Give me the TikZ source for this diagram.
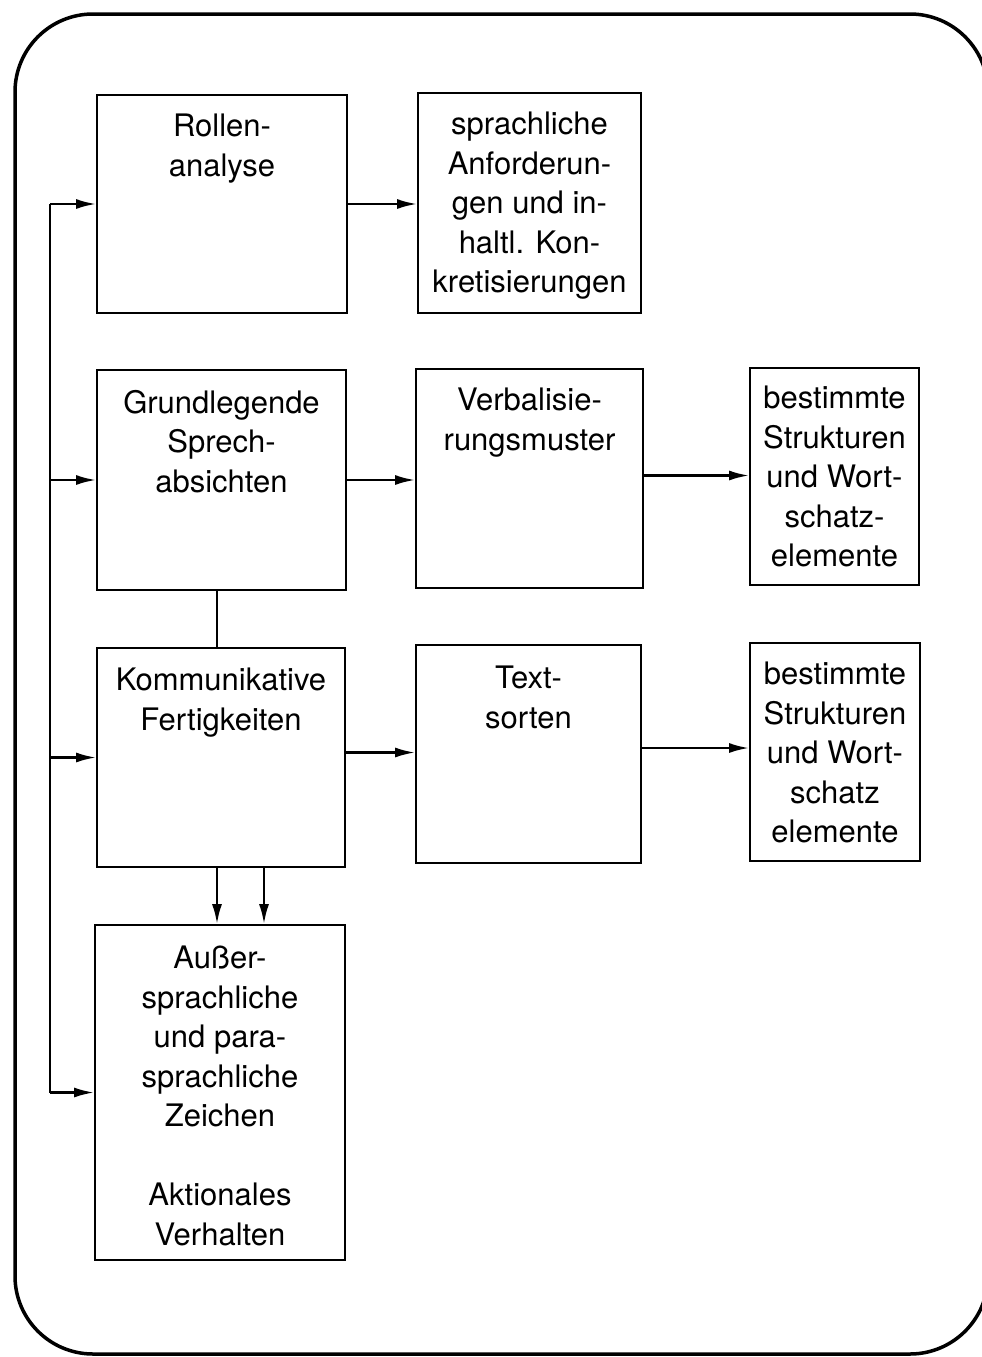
\documentclass[tikz,border=0pt]{standalone}
\usepackage{fontspec}
\setmainfont{TeX Gyre Heros}
\usetikzlibrary{arrows.meta}
\begin{document}
\begin{tikzpicture}[x=1pt,y=-1pt,
  box/.style={draw, line width=1.8pt, inner sep=0pt},
  lbl/.style={align=center, inner sep=0pt, anchor=north, font=\fontsize{31}{39.5}\selectfont},
  conn/.style={line width=2.4pt},
  arr/.style={line width=2.4pt, -{Latex[length=20pt,width=10pt]}},
  frame/.style={line width=3.5pt, rounded corners=78pt}]
\clip (0,0) rectangle (982,1357);
\fill[white] (0,0) rectangle (982,1357);
\draw[frame] (15,14) rectangle (988,1354);
% boxes
\node[box, minimum width=250pt, minimum height=218pt] (rollen) at (222,204) {};
\node[box, minimum width=223pt, minimum height=220pt] (anford) at (529.5,203) {};
\node[box, minimum width=249pt, minimum height=220pt] (grund) at (221.5,480) {};
\node[box, minimum width=227pt, minimum height=219pt] (verbal) at (529.5,478.5) {};
\node[box, minimum width=169pt, minimum height=217pt] (best1) at (834.5,476.5) {};
\node[box, minimum width=248pt, minimum height=219pt] (komm) at (221,757.5) {};
\node[box, minimum width=225pt, minimum height=218pt] (text) at (528.5,754) {};
\node[box, minimum width=170pt, minimum height=218pt] (best2) at (835,752) {};
\node[box, minimum width=250pt, minimum height=335pt] (ausser) at (220,1092.5) {};
% labels
\node[lbl] (trollen) at ([yshift=-20pt]rollen.north) {Rollen-\\analyse};
\node[lbl] (tanford) at ([yshift=-20pt]anford.north) {sprachliche\\Anforderun-\\gen und in-\\haltl. Kon-\\kretisierungen};
\node[lbl] (tgrund) at ([yshift=-21pt]grund.north) {Grundlegende\\Sprech-\\absichten};
\node[lbl] (tverbal) at ([yshift=-20pt]verbal.north) {Verbalisie-\\rungsmuster};
\node[lbl] (tbest1) at ([yshift=-19pt]best1.north) {bestimmte\\Strukturen\\und Wort-\\schatz-\\elemente};
\node[lbl] (tkomm) at ([yshift=-21pt]komm.north) {Kommunikative\\Fertigkeiten};
\node[lbl] (ttext) at ([yshift=-22pt]text.north) {Text-\\sorten};
\node[lbl] (tbest2) at ([yshift=-20pt]best2.north) {bestimmte\\Strukturen\\und Wort-\\schatz\\elemente};
\node[lbl] (tausser) at ([yshift=-22pt]ausser.north) {Außer-\\sprachliche\\und para-\\sprachliche\\Zeichen\\[39.5pt]Aktionales\\Verhalten};
% bus on the left
\coordinate (bus) at (50,0);
\draw[conn] (rollen.west -| bus) -- (ausser.west -| bus);
\draw[arr] (rollen.west -| bus) -- (rollen.west);
\draw[arr] (grund.west -| bus) -- (grund.west);
\draw[arr] (komm.west -| bus) -- (komm.west);
\draw[arr] (ausser.west -| bus) -- (ausser.west);
% horizontal arrows
\draw[arr] (rollen.east) -- (rollen.east -| anford.west);
\draw[arr] (grund.east) -- (grund.east -| verbal.west);
\draw[arr] (verbal.east) ++(0,-3) coordinate (v1) -- (v1 -| best1.west);
\draw[arr] (komm.east) ++(0,-5) coordinate (k1) -- (k1 -| text.west);
\draw[arr] (text.east) ++(0,-6) coordinate (t1) -- (t1 -| best2.west);
% vertical connections
\coordinate (d1) at (217,0);
\coordinate (d2) at (264,0);
\draw[conn] (grund.south -| d1) -- (komm.north -| d1);
\draw[arr] (komm.south -| d1) -- (ausser.north -| d1);
\draw[arr] (komm.south -| d2) -- (ausser.north -| d2);
\end{tikzpicture}
\end{document}
